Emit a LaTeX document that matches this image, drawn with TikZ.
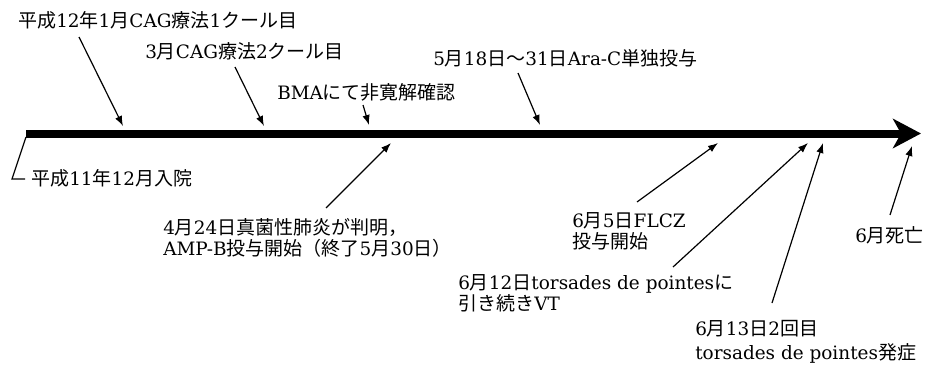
\documentclass[tikz,border=0pt]{standalone}
\usepackage{fontspec}
\setmainfont[Scale=0.97]{DejaVu Serif}
\newfontfamily\jpfont{Noto Sans CJK JP}
\newcommand{\JP}[1]{{\jpfont #1}}
\usetikzlibrary{arrows.meta}
\begin{document}
\begin{tikzpicture}[x=0.75pt,y=-0.75pt,
  lbl/.style={anchor=west,inner sep=0pt,font=\fontsize{14.25pt}{16pt}\selectfont,align=left},
  ptr/.style={-{Latex[length=7.5pt,width=5.5pt]},line width=0.9pt},
  thin/.style={line width=0.9pt}]
\useasboundingbox (0,0) rectangle (929,371);
% main time bar
\coordinate (bs) at (26,133.5);
\coordinate (be) at (921,133.5);
\draw[line width=6pt,-{Stealth[length=21pt,width=22pt,inset=6pt]}] (bs) -- (be);
% labels
\node[lbl] (t1) at (18,20) {\JP{平成}12\JP{年}1\JP{月}CAG\JP{療法}1\JP{クール目}};
\node[lbl] (t2) at (145,51) {3\JP{月}CAG\JP{療法}2\JP{クール目}};
\node[lbl] (t3) at (277,92) {BMA\JP{にて非寛解確認}};
\node[lbl] (t4) at (433,58) {5\JP{月}18\JP{日～}31\JP{日}Ara-C\JP{単独投与}};
\node[lbl] (t5) at (31,178) {\JP{平成}11\JP{年}12\JP{月入院}};
\node[lbl] (t6) at (163,238) {4\JP{月}24\JP{日真菌性肺炎が判明，}\\AMP-B\JP{投与開始（終了}5\JP{月}30\JP{日）}};
\node[lbl] (t7) at (572,231) {6\JP{月}5\JP{日}FLCZ\\\JP{投与開始}};
\node[lbl] (t8) at (458,293) {6\JP{月}12\JP{日}torsades de pointes\JP{に}\\\JP{引き続き}VT};
\node[lbl] (t9) at (695,342) {6\JP{月}13\JP{日}2\JP{回目}\\[2pt]torsades de pointes\JP{発症}};
\node[lbl] (t10) at (855,235) {6\JP{月死亡}};
% pointer coordinates
\coordinate (a1s) at (79,37);   \coordinate (a1e) at (123,126);
\coordinate (a2s) at (235,67);  \coordinate (a2e) at (264,126);
\coordinate (a3s) at (363,105); \coordinate (a3e) at (369,125);
\coordinate (a4s) at (518,73);  \coordinate (a4e) at (540,125);
\coordinate (a5s) at (326,208); \coordinate (a5e) at (391,143);
\coordinate (a6s) at (637,202); \coordinate (a6e) at (718,143);
\coordinate (a7s) at (673,267); \coordinate (a7e) at (808,143);
\coordinate (a8s) at (772,303); \coordinate (a8e) at (823,143);
\coordinate (a9s) at (890,215); \coordinate (a9e) at (912,146);
\foreach \i in {1,...,9} {\draw[ptr] (a\i s) -- (a\i e);}
% admission marker
\coordinate (m0) at (26,137);
\coordinate (m1) at (12,179);
\coordinate (m2) at (25,179);
\draw[thin] (m0) -- (m1) -- (m2);
\end{tikzpicture}
\end{document}
